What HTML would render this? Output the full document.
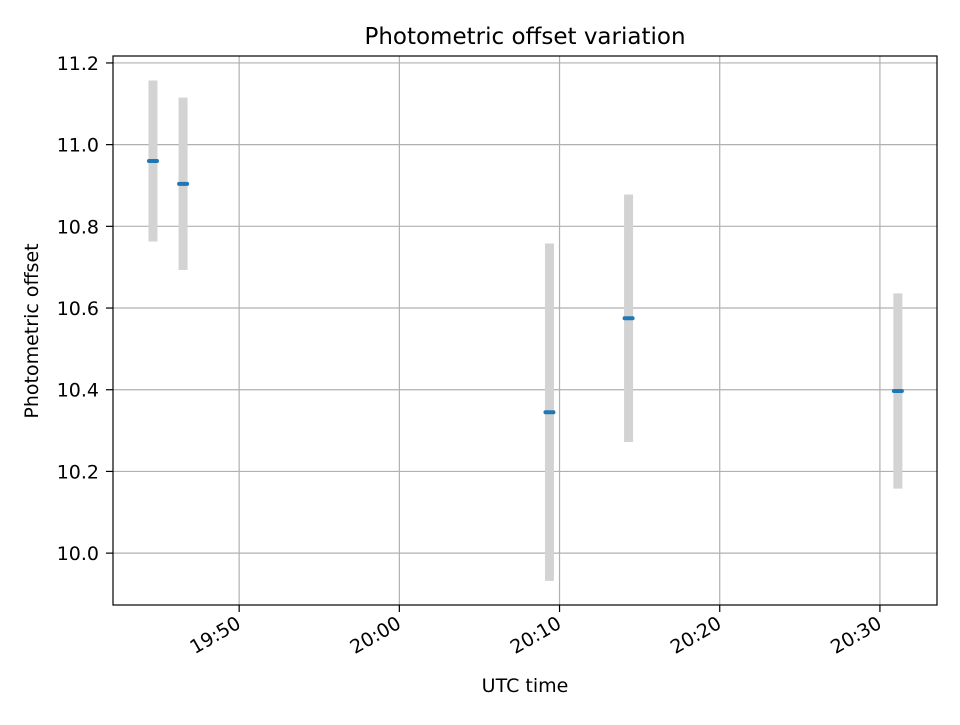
<!DOCTYPE html>
<html><head><meta charset="utf-8"><style>
body{margin:0;background:#fff;}
svg text{font-family:"DejaVu Sans","Liberation Sans",sans-serif;fill:#000;}
</style></head><body>
<svg id="chart" width="960" height="720" xmlns="http://www.w3.org/2000/svg">
<rect width="960" height="720" fill="#fff"/>
<g id="grid"></g>
<g id="marks"></g>
<rect x="113" y="56" width="824" height="549" fill="none" stroke="#000" stroke-width="1.2"/>
<g id="ticks"></g>
<text x="525" y="44" font-size="23" text-anchor="middle">Photometric offset variation</text>
<text x="525" y="692" font-size="19" text-anchor="middle">UTC time</text>
<text transform="translate(38,331) rotate(-90)" font-size="19" text-anchor="middle">Photometric offset</text>
</svg>
<script>
// minutes after 19:00
const times = [44.62, 46.5, 69.37, 74.31, 91.12];
const offsets = [10.960, 10.904, 10.345, 10.575, 10.397];
const errors = [0.197, 0.211, 0.413, 0.303, 0.239];
const xTickValues = [50, 60, 70, 80, 90];
const xTickLabels = ["19:50", "20:00", "20:10", "20:20", "20:30"];
const yTickValues = [10.0, 10.2, 10.4, 10.6, 10.8, 11.0, 11.2];

const L=113,R=937,T=56,B=605;
const xMin=42.125,xMax=93.5625,yMin=9.873,yMax=11.217;
const xs=v=>L+(v-xMin)/(xMax-xMin)*(R-L);
const ys=v=>B-(v-yMin)/(yMax-yMin)*(B-T);
const NS='http://www.w3.org/2000/svg';
function mk(tag,attrs,parent){const e=document.createElementNS(NS,tag);for(const k in attrs)e.setAttribute(k,attrs[k]);parent.appendChild(e);return e;}
const grid=document.getElementById('grid'),ticks=document.getElementById('ticks'),marks=document.getElementById('marks');
xTickValues.forEach((v,i)=>{
  const x=xs(v);
  const g=mk('line',{x1:x,x2:x,y1:T,y2:B,stroke:'#b0b0b0','stroke-width':1.2},grid);
  
  
  const t=mk('line',{x1:x,x2:x,y1:B,y2:B+7,stroke:'#000','stroke-width':1.2},ticks);
  
  
  const l=mk('text',{'font-size':19,'text-anchor':'end',transform:`translate(${x+3},${B+22}) rotate(-30)`},ticks);
  l.textContent=xTickLabels[i];
  
  
});
yTickValues.forEach(v=>{
  const y=ys(v);
  const g=mk('line',{x1:L,x2:R,y1:y,y2:y,stroke:'#b0b0b0','stroke-width':1.2},grid);
  
  
  const t=mk('line',{x1:L-7,x2:L,y1:y,y2:y,stroke:'#000','stroke-width':1.2},ticks);
  
  
  const l=mk('text',{x:L-14,y:y+7,'font-size':19,'text-anchor':'end'},ticks);
  l.textContent=v.toFixed(1);
  
  
});
times.forEach((t,i)=>{
  const x=xs(t);
  const e=mk('line',{x1:x,x2:x,y1:ys(offsets[i]+errors[i]),y2:ys(offsets[i]-errors[i]),stroke:'#d3d3d3','stroke-width':9},marks);
  
  
  const p=mk('line',{x1:x-4,x2:x+4,y1:ys(offsets[i]),y2:ys(offsets[i]),stroke:'#1f77b4','stroke-width':4,'stroke-linecap':'round'},marks);
  
  
});
</script>
</body></html>
